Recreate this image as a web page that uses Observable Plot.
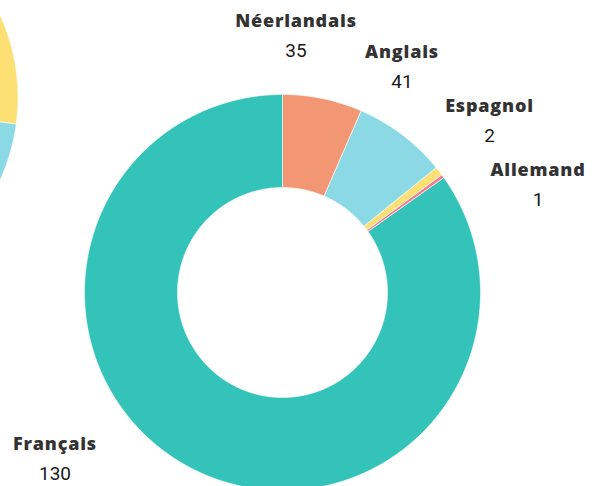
<!DOCTYPE html>
<html><head><meta charset="utf-8">
<script src="https://cdn.jsdelivr.net/npm/d3@7"></script>
<script src="https://cdn.jsdelivr.net/npm/@observablehq/plot@0.6"></script>
<style>html,body{margin:0;padding:0;background:#fff;overflow:hidden}
g[font-family*="Open Sans"]{letter-spacing:0.8px}</style>
</head><body><div id="chart"></div>
<script>
// ---- data ----
const languages = ["Néerlandais", "Anglais", "Espagnol", "Allemand", "Français"];
const counts = [35, 41, 2, 1, 130];            // numbers printed in the labels
const sliceShares = [35, 41, 3.9, 1.5, 455];   // slice sizes as drawn in the picture
const colors = ["#f39673", "#8cd9e6", "#fde073", "#f27a92", "#34c3b9"];

// partially visible neighbouring donut (left edge of the picture)
const neighbourShares = [97.8, 262.2];
const neighbourColors = ["#fde073", "#8cd9e6"];

// ---- layout ----
const W = 593, H = 486;
const CX = 282, CY = 292;          // pixel position of the donut centre
const R_OUT = 198, R_IN = 105;
const NB_CENTER = [-462.5, 195];    // neighbour centre in chart units
const labelAnchor = {
  "Néerlandais": [13.5, 266],
  "Anglais": [119.5, 235],
  "Espagnol": [207, 181],
  "Allemand": [255.5, 117],
  "Français": [-227.5, -157]
};
const LINE_GAP = 30;

function slicePolys(names, shares, cols, cx, cy, r0, r1) {
  const total = d3.sum(shares);
  let acc = 0;
  const pts = [];
  shares.forEach((v, i) => {
    const a0 = acc / total * 2 * Math.PI;
    acc += v;
    const a1 = acc / total * 2 * Math.PI;
    const n = Math.max(2, Math.ceil((a1 - a0) / (Math.PI / 720)));
    for (let k = 0; k <= n; k++) {
      const a = a0 + (a1 - a0) * k / n;
      pts.push({key: names[i], color: cols[i], x: cx + r1 * Math.sin(a), y: cy + r1 * Math.cos(a)});
    }
    for (let k = n; k >= 0; k--) {
      const a = a0 + (a1 - a0) * k / n;
      pts.push({key: names[i], color: cols[i], x: cx + r0 * Math.sin(a), y: cy + r0 * Math.cos(a)});
    }
  });
  return pts;
}

const mainPts = slicePolys(languages, sliceShares, colors, 0, 0, R_IN, R_OUT);
const nbPts = slicePolys(["nb0", "nb1"], neighbourShares, neighbourColors, NB_CENTER[0], NB_CENTER[1], R_IN, R_OUT);

const labels = languages.map((l, i) => ({
  name: l, count: counts[i], x: labelAnchor[l][0], y: labelAnchor[l][1]
}));

const chart = Plot.plot({
  width: W, height: H,
  margin: 0,
  x: {domain: [-CX, W - CX], axis: null},
  y: {domain: [CY - H, CY], axis: null},
  color: {type: "identity"},
  style: {background: "#fff", overflow: "hidden"},
  marks: [
    Plot.line(nbPts, {x: "x", y: "y", z: "key", fill: "color", stroke: "#fff", strokeWidth: 0.6, curve: "linear-closed"}),
    Plot.line(mainPts, {x: "x", y: "y", z: "key", fill: "color", stroke: "#fff", strokeWidth: 0.6, curve: "linear-closed"}),
    Plot.text(labels, {x: "x", y: "y", text: "name", lineAnchor: "bottom", textAnchor: "middle",
      fontFamily: "'Open Sans', Lato, sans-serif", fontWeight: 800, fontSize: 18, fill: "#333333"}),
    Plot.text(labels, {x: "x", y: d => d.y - LINE_GAP, text: d => String(d.count), lineAnchor: "bottom", textAnchor: "middle",
      fontFamily: "Roboto, Inter, sans-serif", fontWeight: 400, fontSize: 19, fill: "#1a1a1a"})
  ]
});
document.getElementById("chart").appendChild(chart);
</script>
</body></html>
